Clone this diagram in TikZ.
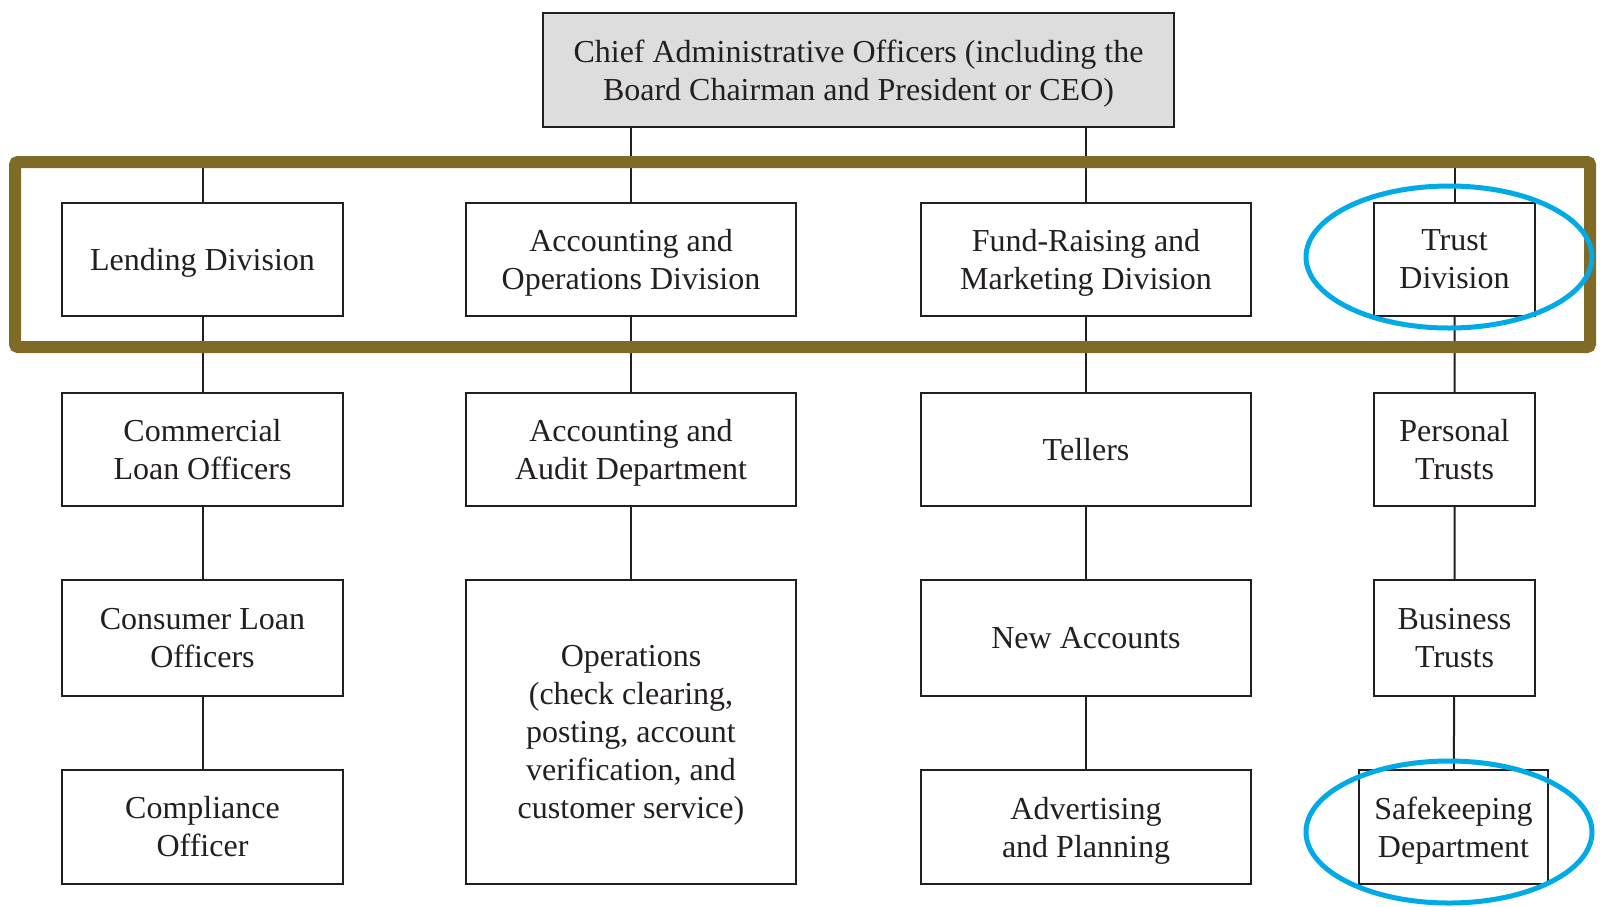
\documentclass[tikz,border=0pt]{standalone}
\usepackage{fontspec}
\setmainfont{Liberation Serif}
\definecolor{gold}{RGB}{128,107,38}
\definecolor{ringblue}{RGB}{0,170,230}
\definecolor{boxgray}{RGB}{221,221,221}
\definecolor{ink}{RGB}{35,31,32}
% set a line without its depth, so that text centres on its capitals
\newcommand\nd[1]{\raisebox{0pt}[\height][0pt]{#1}}
\begin{document}
\begin{tikzpicture}[x=1pt,y=-1pt,
  box/.style={draw=ink, line width=2pt, fill=white, inner sep=0pt, align=center,
    text=ink, font=\fontsize{32}{38}\selectfont},
  wide/.style={box, minimum width=281pt, minimum height=113pt},
  mid/.style={box, minimum width=330pt, minimum height=113pt},
  narrow/.style={box, minimum width=161pt, minimum height=113pt},
  link/.style={draw=ink, line width=2pt},
  frame/.style={draw=gold, line width=12pt, rounded corners=3pt},
  ring/.style={draw=ringblue, line width=5pt}]
\useasboundingbox (0,0) rectangle (1606,906);
% top
\node[box, fill=boxgray, minimum width=631pt, minimum height=114pt] (chief) at (858.5,70)
  {Chief Administrative Officers (including the\\\nd{Board Chairman and President or CEO)}};
% row 1
\node[wide] (lend) at (202.5,259.5) {\nd{Lending Division}};
\node[mid] (accops) at (631,259.5) {Accounting and\\\nd{Operations Division}};
\node[mid] (fund) at (1086,259.5) {Fund-Raising and\\\nd{Marketing Division}};
\node[narrow] (trust) at (1454.5,259.5) {Trust\\Division};
% row 2
\node[wide] (comm) at (202.5,449.5) {Commercial\\Loan Officers};
\node[mid] (audit) at (631,449.5) {Accounting and\\\nd{Audit Department}};
\node[mid] (tell) at (1086,449.5) {Tellers};
\node[narrow] (pers) at (1454.5,449.5) {Personal\\Trusts};
% row 3
\node[wide, minimum height=116pt] (cons) at (202.5,638) {Consumer Loan\\Officers};
\node[mid, minimum height=304pt] (ops) at (631,732)
  {Operations\\(check clearing,\\posting, account\\verification, and\\\nd{customer service)}};
\node[mid, minimum height=116pt] (newacc) at (1086,638) {New Accounts};
\node[narrow, minimum height=116pt] (bus) at (1454.5,638) {Business\\Trusts};
% row 4
\node[wide, minimum height=114pt] (compl) at (202.5,827) {Compliance\\Officer};
\node[mid, minimum height=114pt] (adv) at (1086,827) {Advertising\\\nd{and Planning}};
\node[box, minimum width=189pt, minimum height=114pt] (safe) at (1453.5,827) {Safekeeping\\\nd{Department}};
% connectors
\coordinate (bar) at (0,162);
\draw[link] (lend.north) |- (trust.north |- bar) -- (trust.north);
\draw[link] (chief.south -| accops.north) -- (accops.north);
\draw[link] (chief.south -| fund.north) -- (fund.north);
\draw[link] (lend) -- (comm) (comm) -- (cons) (cons) -- (compl);
\draw[link] (accops) -- (audit) (audit) -- (ops);
\draw[link] (fund) -- (tell) (tell) -- (newacc) (newacc) -- (adv);
\draw[link] (trust) -- (pers) (pers) -- (bus) (bus) -- (safe);
% highlight frame and rings
\draw[frame] (15,162) rectangle (1590,347);
\draw[ring] (1449,257) ellipse [x radius=143pt, y radius=71pt];
\draw[ring] (1449,832) ellipse [x radius=143pt, y radius=71pt];
\end{tikzpicture}
\end{document}
